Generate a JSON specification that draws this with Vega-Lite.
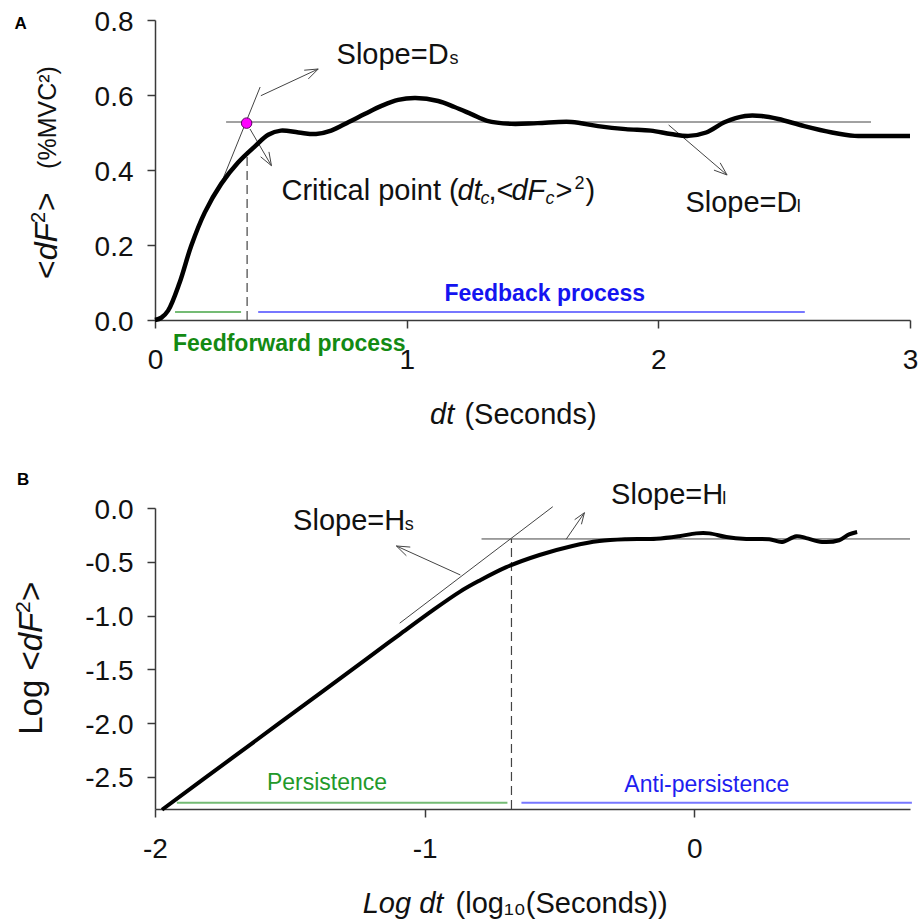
{
  "$schema": "https://vega.github.io/schema/vega-lite/v6.json",
  "padding": {"left": 13, "top": 8, "right": 0, "bottom": 0},
  "spacing": 41,
  "config": {
    "view": {"stroke": null},
    "font": "Liberation Sans",
    "axis": {
      "grid": false, "domainColor": "#3a3a3a", "domainWidth": 1.5,
      "tickColor": "#3a3a3a", "tickWidth": 1.5, "tickSize": 8,
      "labelFontSize": 28, "labelColor": "#111", "labelFlush": false, "labelOverlap": false,
      "labelFont": "Liberation Sans", "title": null
    },
    "text": {"font": "Liberation Sans"}
  },
  "datasets": {
    "curveA": [
      {"x": 0, "y": 0}, {"x": 0.025, "y": 0.006}, {"x": 0.052, "y": 0.025}, {"x": 0.098, "y": 0.1},
      {"x": 0.144, "y": 0.198}, {"x": 0.198, "y": 0.287}, {"x": 0.263, "y": 0.363}, {"x": 0.33, "y": 0.42},
      {"x": 0.4, "y": 0.465}, {"x": 0.45, "y": 0.494}, {"x": 0.5, "y": 0.505}, {"x": 0.57, "y": 0.5},
      {"x": 0.64, "y": 0.496}, {"x": 0.7, "y": 0.505}, {"x": 0.77, "y": 0.528}, {"x": 0.835, "y": 0.55},
      {"x": 0.9, "y": 0.571}, {"x": 0.966, "y": 0.587}, {"x": 1.035, "y": 0.592}, {"x": 1.125, "y": 0.584},
      {"x": 1.19, "y": 0.568}, {"x": 1.257, "y": 0.549}, {"x": 1.32, "y": 0.531}, {"x": 1.416, "y": 0.523},
      {"x": 1.52, "y": 0.525}, {"x": 1.655, "y": 0.528}, {"x": 1.76, "y": 0.517}, {"x": 1.87, "y": 0.509},
      {"x": 1.97, "y": 0.505}, {"x": 2.05, "y": 0.496}, {"x": 2.12, "y": 0.491}, {"x": 2.19, "y": 0.5},
      {"x": 2.265, "y": 0.528}, {"x": 2.345, "y": 0.544}, {"x": 2.41, "y": 0.544}, {"x": 2.477, "y": 0.536},
      {"x": 2.58, "y": 0.517}, {"x": 2.69, "y": 0.5}, {"x": 2.78, "y": 0.491}, {"x": 2.875, "y": 0.491},
      {"x": 3.0, "y": 0.491}
    ],
    "linesA": [
      {"x": 0.2666, "y": 0.3707, "x2": 0.4178, "y2": 0.6213},
      {"x": 0.2825, "y": 0.528, "x2": 2.845, "y2": 0.528},
      {"x": 0.4206, "y": 0.5981, "x2": 0.6485, "y2": 0.6693},
      {"x": 0.5928, "y": 0.6661, "x2": 0.6485, "y2": 0.6693},
      {"x": 0.6092, "y": 0.6429, "x2": 0.6485, "y2": 0.6693},
      {"x": 0.3775, "y": 0.5093, "x2": 0.4627, "y2": 0.4115},
      {"x": 0.4528, "y": 0.4483, "x2": 0.4627, "y2": 0.4115},
      {"x": 0.4198, "y": 0.4352, "x2": 0.4627, "y2": 0.4115},
      {"x": 2.0411, "y": 0.52, "x2": 2.2731, "y2": 0.3867},
      {"x": 2.2457, "y": 0.4192, "x2": 2.2731, "y2": 0.3867},
      {"x": 2.221, "y": 0.3997, "x2": 2.2731, "y2": 0.3867}
    ],
    "dashA": [{"x": 0.366, "y": 0, "x2": 0.366, "y2": 0.45}],
    "phasesA": [
      {"phase": "Feedforward", "x": 0.0796, "x2": 0.342, "y": 0.0213},
      {"phase": "Feedback", "x": 0.41, "x2": 2.582, "y": 0.0213}
    ],
    "critA": [{"x": 0.364, "y": 0.525}],
    "uprightA": [
      {"text": "Slope=D", "x": 0.7214, "y": 0.6827},
      {"text": "Slope=D", "x": 2.1076, "y": 0.288},
      {"text": "Critical point (", "x": 0.5025, "y": 0.32},
      {"text": ",<", "x": 1.3249, "y": 0.32},
      {"text": ">", "x": 1.5915, "y": 0.32},
      {"text": ")", "x": 1.7109, "y": 0.32},
      {"text": "(Seconds)", "x": 1.2295, "y": -0.2773}
    ],
    "italicA": [
      {"text": "dt", "x": 1.2016, "y": 0.32},
      {"text": "dF", "x": 1.4165, "y": 0.32},
      {"text": "dt", "x": 1.093, "y": -0.2773}
    ],
    "smallA": [
      {"text": "s", "x": 1.1698, "y": 0.6827},
      {"text": "l", "x": 2.5504, "y": 0.288},
      {"text": "2", "x": 1.6671, "y": 0.3493}
    ],
    "smallItalicA": [
      {"text": "c", "x": 1.2937, "y": 0.3093},
      {"text": "c", "x": 1.5517, "y": 0.3093}
    ],
    "yTitleUprightA": [
      {"text": "<", "x": -0.39, "y": 0.1093},
      {"text": ">", "x": -0.39, "y": 0.2907}
    ],
    "yTitleItalicA": [{"text": "dF", "x": -0.39, "y": 0.1592}],
    "yTitleSupA": [{"text": "2", "x": -0.4377, "y": 0.2587}],
    "feedforwardA": [{"text": "Feedforward process", "x": 0.0716, "y": -0.0827}],
    "feedbackA": [{"text": "Feedback process", "x": 1.1499, "y": 0.0507}],
    "letterA": [{"text": "A", "x": -0.5582, "y": 0.776}],
    "unitA": [{"text": "(%MVC²)", "x": -0.394, "y": 0.54}],
    "curveB": [
      {"x": -1.974, "y": -2.807}, {"x": -1.711, "y": -2.32}, {"x": -1.463, "y": -1.862},
      {"x": -1.215, "y": -1.403}, {"x": -1.093, "y": -1.177}, {"x": -0.969, "y": -0.95},
      {"x": -0.87, "y": -0.78}, {"x": -0.8, "y": -0.68}, {"x": -0.697, "y": -0.55},
      {"x": -0.574, "y": -0.437}, {"x": -0.452, "y": -0.353}, {"x": -0.352, "y": -0.307},
      {"x": -0.252, "y": -0.29}, {"x": -0.141, "y": -0.286}, {"x": -0.056, "y": -0.262},
      {"x": 0.007, "y": -0.236}, {"x": 0.056, "y": -0.236}, {"x": 0.119, "y": -0.27},
      {"x": 0.193, "y": -0.288}, {"x": 0.278, "y": -0.29}, {"x": 0.326, "y": -0.316},
      {"x": 0.378, "y": -0.262}, {"x": 0.415, "y": -0.28}, {"x": 0.474, "y": -0.316},
      {"x": 0.537, "y": -0.3}, {"x": 0.574, "y": -0.245}, {"x": 0.604, "y": -0.223}
    ],
    "linesB": [
      {"x": -1.0926, "y": -1.0716, "x2": -0.5248, "y2": 0.012},
      {"x": -0.789, "y": -0.288, "x2": 0.8, "y2": -0.288},
      {"x": -0.8678, "y": -0.6227, "x2": -1.1048, "y2": -0.3532},
      {"x": -1.0678, "y": -0.4442, "x2": -1.1048, "y2": -0.3532},
      {"x": -1.0533, "y": -0.3634, "x2": -1.1048, "y2": -0.3532},
      {"x": -0.4752, "y": -0.2909, "x2": -0.4074, "y2": -0.0437},
      {"x": -0.4437, "y": -0.1087, "x2": -0.4074, "y2": -0.0437},
      {"x": -0.4185, "y": -0.1515, "x2": -0.4074, "y2": -0.0437}
    ],
    "dashB": [{"x": -0.678, "y": -2.8, "x2": -0.678, "y2": -0.288}],
    "phasesB": [
      {"phase": "Persistence", "x": -1.919, "x2": -0.693, "y": -2.742},
      {"phase": "Anti-persistence", "x": -0.641, "x2": 0.807, "y": -2.742}
    ],
    "uprightB": [
      {"text": "Slope=H", "x": -1.4878, "y": -0.2045},
      {"text": "Slope=H", "x": -0.3085, "y": 0.0372},
      {"text": "(log₁₀(Seconds))", "x": -0.8852, "y": -3.764}
    ],
    "italicB": [{"text": "Log dt", "x": -1.2296, "y": -3.764}],
    "smallB": [
      {"text": "s", "x": -1.0741, "y": -0.2045},
      {"text": "l", "x": 0.1037, "y": 0.0372}
    ],
    "yTitleUprightB": [
      {"text": "Log <", "x": -2.4185, "y": -2.1097},
      {"text": ">", "x": -2.4185, "y": -0.864}
    ],
    "yTitleItalicB": [{"text": "dF", "x": -2.4185, "y": -1.3335}],
    "yTitleSupB": [{"text": "2", "x": -2.463, "y": -0.9756}],
    "persistB": [{"text": "Persistence", "x": -1.585, "y": -2.621}],
    "antiB": [{"text": "Anti-persistence", "x": -0.2593, "y": -2.639}],
    "letterB": [{"text": "B", "x": -2.5122, "y": 0.2138}]
  },
  "vconcat": [
    {
      "width": 755,
      "height": 300,
      "encoding": {
        "x": {
          "field": "x", "type": "quantitative",
          "scale": {"domain": [0, 3], "nice": false, "zero": false},
          "axis": {"values": [0, 1, 2, 3], "format": "d", "labelPadding": 18, "title": null}
        },
        "y": {
          "field": "y", "type": "quantitative",
          "scale": {"domain": [0, 0.8], "nice": false, "zero": false},
          "axis": {"values": [0, 0.2, 0.4, 0.6, 0.8], "format": ".1f", "labelPadding": 14, "labelOffset": 2, "title": null}
        }
      },
      "layer": [
        {
          "data": {"name": "phasesA"},
          "mark": {"type": "rule", "strokeWidth": 2},
          "encoding": {
            "x2": {"field": "x2"},
            "color": {"field": "phase", "type": "nominal", "legend": null,
              "scale": {"domain": ["Feedforward", "Feedback", "Persistence", "Anti-persistence"], "range": ["#74bb74", "#7777ff", "#74bb74", "#7777ff"]}}
          }
        },
        {
          "data": {"name": "linesA"},
          "mark": {"type": "rule", "color": "#444", "strokeWidth": 1},
          "encoding": {"x2": {"field": "x2"}, "y2": {"field": "y2"}}
        },
        {
          "data": {"name": "dashA"},
          "mark": {"type": "rule", "color": "#444", "strokeWidth": 1.2, "strokeDash": [9, 5]},
          "encoding": {"x2": {"field": "x2"}, "y2": {"field": "y2"}}
        },
        {
          "data": {"name": "curveA"},
          "mark": {"type": "line", "color": "#000", "strokeWidth": 4.5, "interpolate": "catmull-rom"}
        },
        {
          "data": {"name": "critA"},
          "mark": {"type": "point", "filled": true, "fill": "#ff00ff", "stroke": "#5a0060", "strokeWidth": 1, "size": 110, "opacity": 1}
        },
        {
          "data": {"name": "uprightA"},
          "mark": {"type": "text", "align": "left", "baseline": "alphabetic", "fontSize": 29, "color": "#111"},
          "encoding": {"text": {"field": "text"}}
        },
        {
          "data": {"name": "italicA"},
          "mark": {"type": "text", "align": "left", "baseline": "alphabetic", "fontSize": 29, "fontStyle": "italic", "color": "#111"},
          "encoding": {"text": {"field": "text"}}
        },
        {
          "data": {"name": "smallA"},
          "mark": {"type": "text", "align": "left", "baseline": "alphabetic", "fontSize": 18, "color": "#111"},
          "encoding": {"text": {"field": "text"}}
        },
        {
          "data": {"name": "smallItalicA"},
          "mark": {"type": "text", "align": "left", "baseline": "alphabetic", "fontSize": 18, "fontStyle": "italic", "color": "#111"},
          "encoding": {"text": {"field": "text"}}
        },
        {
          "data": {"name": "yTitleUprightA"},
          "mark": {"type": "text", "align": "left", "baseline": "alphabetic", "fontSize": 32, "angle": 270, "color": "#111"},
          "encoding": {"text": {"field": "text"}}
        },
        {
          "data": {"name": "yTitleItalicA"},
          "mark": {"type": "text", "align": "left", "baseline": "alphabetic", "fontSize": 32, "angle": 270, "fontStyle": "italic", "color": "#111"},
          "encoding": {"text": {"field": "text"}}
        },
        {
          "data": {"name": "yTitleSupA"},
          "mark": {"type": "text", "align": "left", "baseline": "alphabetic", "fontSize": 20, "angle": 270, "color": "#111"},
          "encoding": {"text": {"field": "text"}}
        },
        {
          "data": {"name": "feedforwardA"},
          "mark": {"type": "text", "align": "left", "baseline": "alphabetic", "fontSize": 23, "fontWeight": "bold", "color": "#138a13"},
          "encoding": {"text": {"field": "text"}}
        },
        {
          "data": {"name": "feedbackA"},
          "mark": {"type": "text", "align": "left", "baseline": "alphabetic", "fontSize": 23, "fontWeight": "bold", "color": "#1414f0"},
          "encoding": {"text": {"field": "text"}}
        },
        {
          "data": {"name": "letterA"},
          "mark": {"type": "text", "align": "left", "baseline": "alphabetic", "fontSize": 17, "fontWeight": "bold", "color": "#000"},
          "encoding": {"text": {"field": "text"}}
        },
        {
          "data": {"name": "unitA"},
          "mark": {"type": "text", "align": "center", "baseline": "alphabetic", "fontSize": 25, "angle": 270, "color": "#111"},
          "encoding": {"text": {"field": "text"}}
        }
      ]
    },
    {
      "width": 755,
      "height": 301,
      "encoding": {
        "x": {
          "field": "x", "type": "quantitative",
          "scale": {"domain": [-2, 0.8], "nice": false, "zero": false},
          "axis": {"values": [-2, -1, 0], "labelExpr": "replace(format(datum.value, 'd'), '−', '-')", "labelPadding": 18, "title": null}
        },
        "y": {
          "field": "y", "type": "quantitative",
          "scale": {"domain": [-2.8, 0], "nice": false, "zero": false},
          "axis": {"values": [0, -0.5, -1, -1.5, -2, -2.5], "labelExpr": "replace(format(datum.value, '.1f'), '−', '-')", "labelPadding": 14, "labelOffset": 2, "title": null}
        }
      },
      "layer": [
        {
          "data": {"name": "phasesB"},
          "mark": {"type": "rule", "strokeWidth": 2},
          "encoding": {
            "x2": {"field": "x2"},
            "color": {"field": "phase", "type": "nominal", "legend": null,
              "scale": {"domain": ["Feedforward", "Feedback", "Persistence", "Anti-persistence"], "range": ["#74bb74", "#7777ff", "#74bb74", "#7777ff"]}}
          }
        },
        {
          "data": {"name": "linesB"},
          "mark": {"type": "rule", "color": "#444", "strokeWidth": 1},
          "encoding": {"x2": {"field": "x2"}, "y2": {"field": "y2"}}
        },
        {
          "data": {"name": "dashB"},
          "mark": {"type": "rule", "color": "#444", "strokeWidth": 1.2, "strokeDash": [9, 5]},
          "encoding": {"x2": {"field": "x2"}, "y2": {"field": "y2"}}
        },
        {
          "data": {"name": "curveB"},
          "mark": {"type": "line", "color": "#000", "strokeWidth": 4, "interpolate": "catmull-rom"}
        },
        {
          "data": {"name": "uprightB"},
          "mark": {"type": "text", "align": "left", "baseline": "alphabetic", "fontSize": 29, "color": "#111"},
          "encoding": {"text": {"field": "text"}}
        },
        {
          "data": {"name": "italicB"},
          "mark": {"type": "text", "align": "left", "baseline": "alphabetic", "fontSize": 29, "fontStyle": "italic", "color": "#111"},
          "encoding": {"text": {"field": "text"}}
        },
        {
          "data": {"name": "smallB"},
          "mark": {"type": "text", "align": "left", "baseline": "alphabetic", "fontSize": 18, "color": "#111"},
          "encoding": {"text": {"field": "text"}}
        },
        {
          "data": {"name": "yTitleUprightB"},
          "mark": {"type": "text", "align": "left", "baseline": "alphabetic", "fontSize": 33, "angle": 270, "color": "#111"},
          "encoding": {"text": {"field": "text"}}
        },
        {
          "data": {"name": "yTitleItalicB"},
          "mark": {"type": "text", "align": "left", "baseline": "alphabetic", "fontSize": 33, "angle": 270, "fontStyle": "italic", "color": "#111"},
          "encoding": {"text": {"field": "text"}}
        },
        {
          "data": {"name": "yTitleSupB"},
          "mark": {"type": "text", "align": "left", "baseline": "alphabetic", "fontSize": 21, "angle": 270, "color": "#111"},
          "encoding": {"text": {"field": "text"}}
        },
        {
          "data": {"name": "persistB"},
          "mark": {"type": "text", "align": "left", "baseline": "alphabetic", "fontSize": 23, "color": "#22992a"},
          "encoding": {"text": {"field": "text"}}
        },
        {
          "data": {"name": "antiB"},
          "mark": {"type": "text", "align": "left", "baseline": "alphabetic", "fontSize": 23, "color": "#1e1ef0"},
          "encoding": {"text": {"field": "text"}}
        },
        {
          "data": {"name": "letterB"},
          "mark": {"type": "text", "align": "left", "baseline": "alphabetic", "fontSize": 17, "fontWeight": "bold", "color": "#000"},
          "encoding": {"text": {"field": "text"}}
        }
      ]
    }
  ]
}
